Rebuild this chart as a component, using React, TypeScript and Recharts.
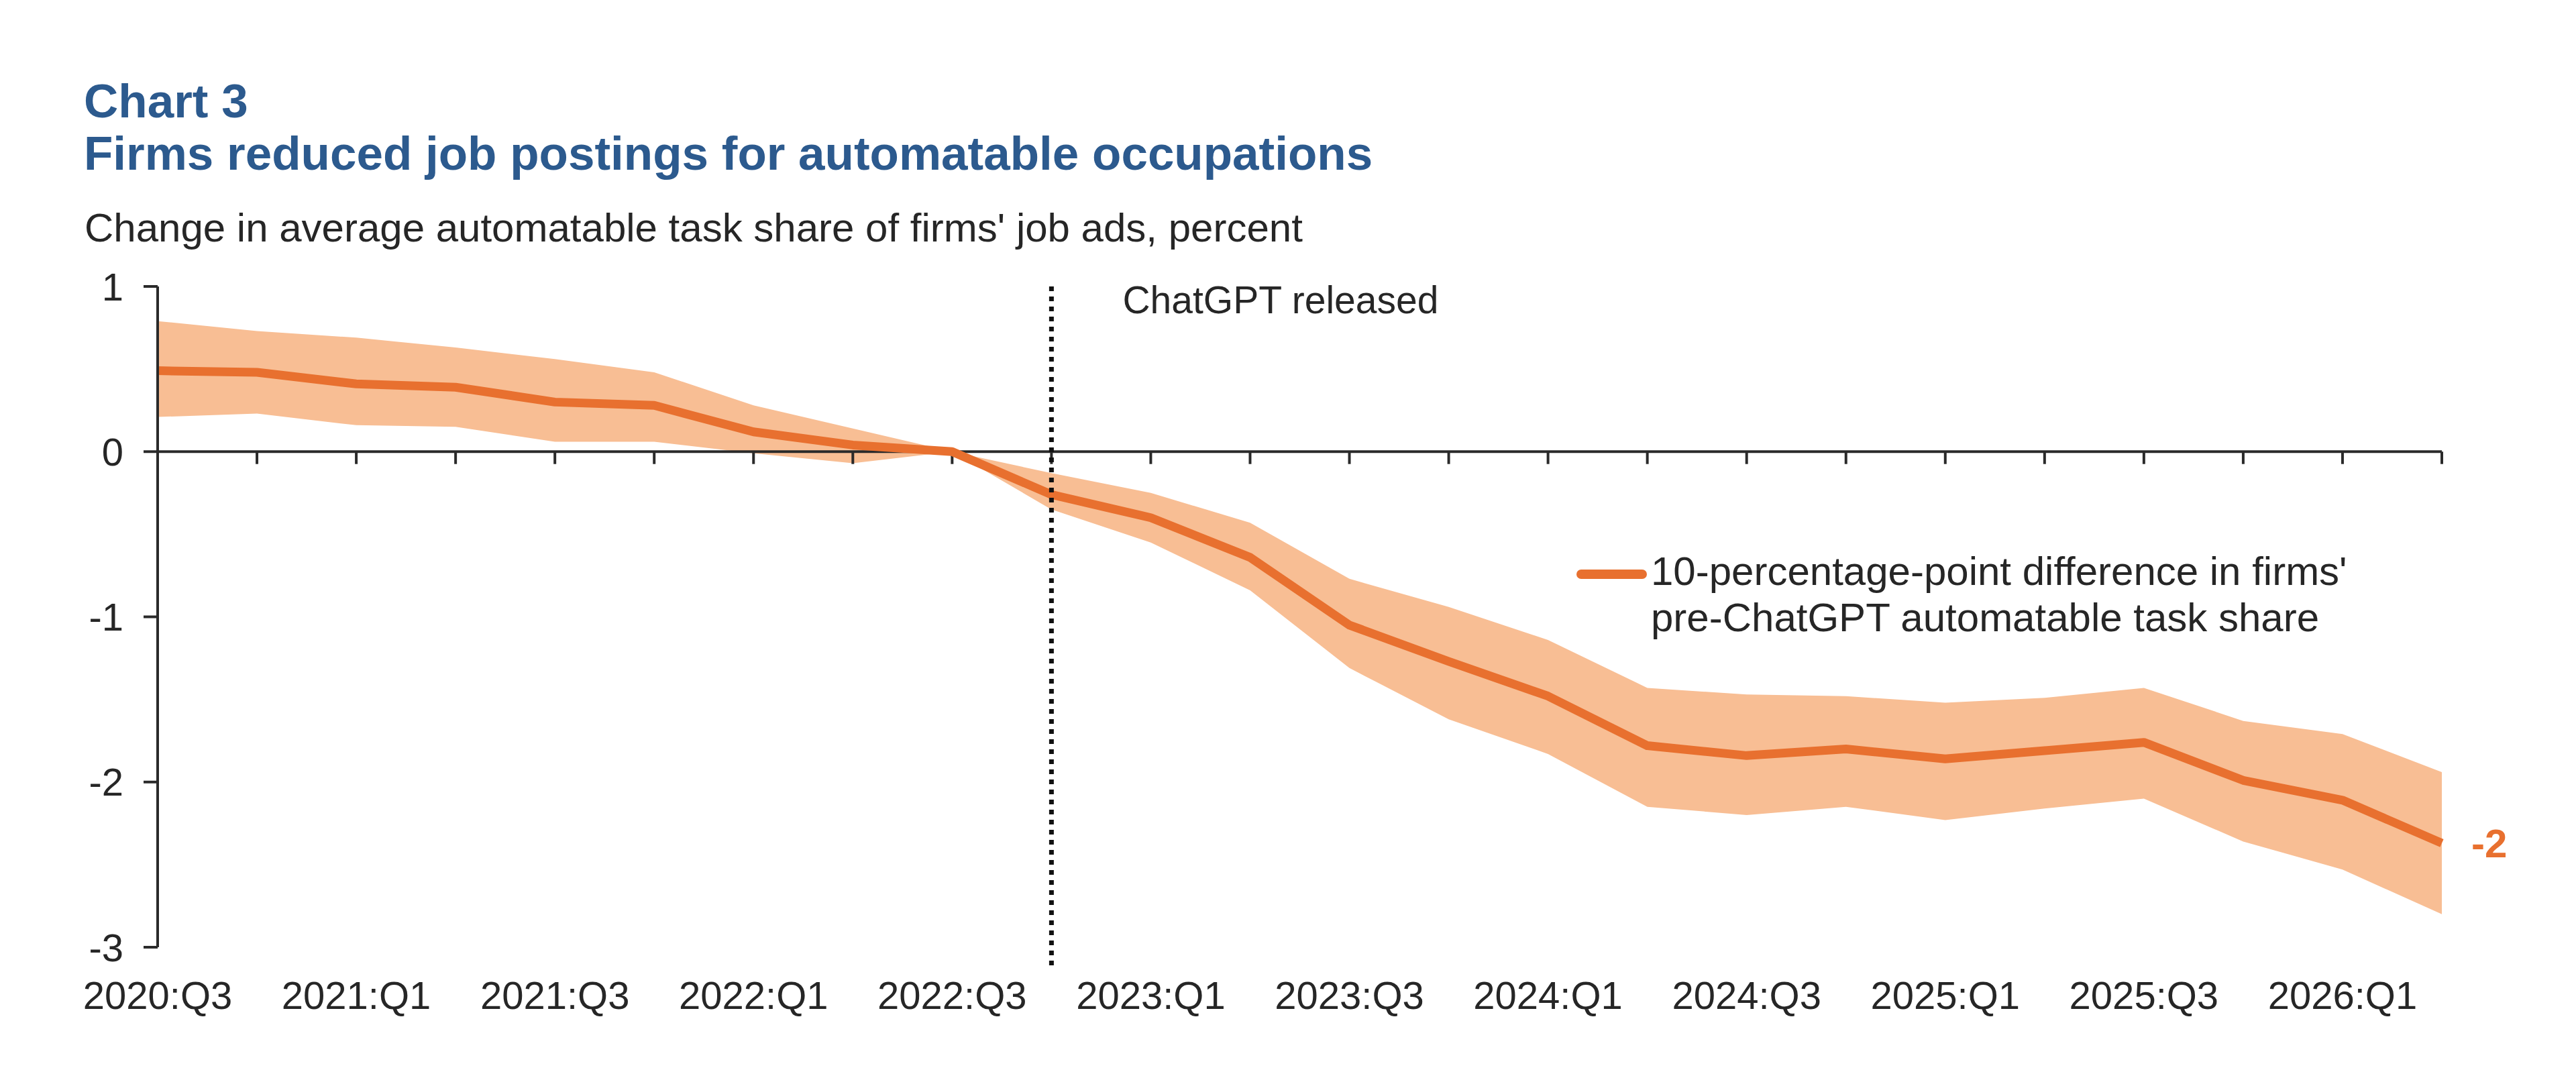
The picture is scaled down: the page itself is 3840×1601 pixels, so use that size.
import React from 'react';
import {
  ComposedChart,
  Area,
  Line,
  XAxis,
  YAxis,
  ReferenceLine,
  Legend,
  LabelList,
} from 'recharts';

const quarters = [
  '2020:Q3', '2020:Q4',
  '2021:Q1', '2021:Q2', '2021:Q3', '2021:Q4',
  '2022:Q1', '2022:Q2', '2022:Q3', '2022:Q4',
  '2023:Q1', '2023:Q2', '2023:Q3', '2023:Q4',
  '2024:Q1', '2024:Q2', '2024:Q3', '2024:Q4',
  '2025:Q1', '2025:Q2', '2025:Q3', '2025:Q4',
  '2026:Q1', '2026:Q2',
];

const estimate = [
  0.49, 0.48, 0.41, 0.39, 0.3, 0.28, 0.12, 0.04, 0.0, -0.26,
  -0.4, -0.64, -1.05, -1.27, -1.48, -1.78, -1.84, -1.8, -1.86, -1.81,
  -1.76, -1.99, -2.11, -2.37,
];

const upperBound = [
  0.79, 0.73, 0.69, 0.63, 0.56, 0.48, 0.28, 0.14, 0.0, -0.13,
  -0.25, -0.43, -0.77, -0.94, -1.14, -1.43, -1.47, -1.48, -1.52, -1.49,
  -1.43, -1.63, -1.71, -1.94,
];

const lowerBound = [
  0.21, 0.23, 0.16, 0.15, 0.06, 0.06, -0.01, -0.07, 0.0, -0.35,
  -0.55, -0.84, -1.31, -1.62, -1.83, -2.15, -2.2, -2.15, -2.23, -2.16,
  -2.1, -2.36, -2.53, -2.8,
];

const yTicks = [1, 0, -1, -2, -3];
const releaseQuarter = '2022:Q4';
const releaseLabel = 'ChatGPT released';
const seriesLines = [
  "10-percentage-point difference in firms'",
  'pre-ChatGPT automatable task share',
];
const titleLines = ['Chart 3', 'Firms reduced job postings for automatable occupations'];
const subtitle = "Change in average automatable task share of firms' job ads, percent";

const data = quarters.map((q, i) => ({
  q,
  est: estimate[i],
  band: [lowerBound[i], upperBound[i]],
}));

const FONT = '"Liberation Sans", Arial, Helvetica, sans-serif';
const ORANGE = '#E8702F';
const BAND = '#F8BE94';
const AXIS = '#2a2a2a';
const TEXT = '#262626';
const BLUE = '#2C5A8E';
const TICK_LEN = 0.075;

const XTick = (props: any) => {
  const { x, y, payload, index } = props;
  const idx = typeof index === 'number' ? index : quarters.indexOf(payload.value);
  if (idx % 2 !== 0) return <g />;
  return (
    <text x={x} y={y + 92} textAnchor="middle" fontSize={58} fill={TEXT} fontFamily={FONT}>
      {payload.value}
    </text>
  );
};

const EndLabel = (props: any) => {
  const { x, y, value, index } = props;
  if (index !== quarters.length - 1) return null;
  return (
    <text
      x={x + 44}
      y={y}
      dy="0.355em"
      fontSize={60}
      fontWeight={700}
      fill={ORANGE}
      fontFamily={FONT}
    >
      {Math.round(value)}
    </text>
  );
};

const ReleaseLabel = (props: any) => {
  const vb = props.viewBox || {};
  return (
    <text x={(vb.x || 0) + 106} y={(vb.y || 0) + 40} fontSize={57} fill={TEXT} fontFamily={FONT}>
      {releaseLabel}
    </text>
  );
};

const renderLegend = (props: any) => {
  const entry = (props.payload || []).find((p: any) => p.dataKey === 'est');
  const color = entry?.color || ORANGE;
  return (
    <div
      style={{
        display: 'flex',
        alignItems: 'flex-start',
        fontFamily: FONT,
        fontSize: 60,
        lineHeight: '69px',
        color: TEXT,
        whiteSpace: 'nowrap',
      }}
    >
      <svg width={116} height={69} style={{ display: 'block' }}>
        <line x1={12} y1={39} x2={103} y2={39} stroke={color} strokeWidth={14} strokeLinecap="round" />
      </svg>
      <div>
        {seriesLines[0]}
        <br />
        {seriesLines[1]}
      </div>
    </div>
  );
};

export default function App() {
  return (
    <div
      style={{
        position: 'absolute',
        left: 0,
        top: 0,
        width: 3840,
        height: 1601,
        background: '#ffffff',
        overflow: 'hidden',
      }}
    >
      <ComposedChart
        width={3840}
        height={1601}
        data={data}
        margin={{ top: 427, right: 200, bottom: 89, left: 115 }}
      >
        <XAxis
          dataKey="q"
          interval={0}
          axisLine={false}
          tickLine={false}
          tickSize={0}
          tickMargin={0}
          height={100}
          tick={<XTick />}
        />
        <YAxis
          type="number"
          domain={[-3, 1]}
          ticks={yTicks}
          allowDataOverflow
          width={120}
          axisLine={{ stroke: AXIS, strokeWidth: 4 }}
          tickLine={{ stroke: AXIS, strokeWidth: 4 }}
          tickSize={21}
          tickMargin={30}
          tick={{ fontSize: 58, fill: TEXT, fontFamily: FONT }}
        />
        <Area
          dataKey="band"
          type="linear"
          fill={BAND}
          fillOpacity={1}
          stroke="none"
          legendType="none"
          activeDot={false}
          isAnimationActive={false}
        />
        <ReferenceLine y={0} stroke={AXIS} strokeWidth={4} />
        {quarters.map((q) => (
          <ReferenceLine
            key={'tick-' + q}
            segment={[
              { x: q, y: 0 },
              { x: q, y: -TICK_LEN },
            ]}
            stroke={AXIS}
            strokeWidth={4}
            ifOverflow="visible"
          />
        ))}
        <Line
          dataKey="est"
          type="linear"
          stroke={ORANGE}
          strokeWidth={13}
          strokeLinejoin="round"
          dot={false}
          activeDot={false}
          isAnimationActive={false}
        >
          <LabelList dataKey="est" content={EndLabel} />
        </Line>
        <ReferenceLine
          segment={[
            { x: releaseQuarter, y: 1 },
            { x: releaseQuarter, y: -3.13 },
          ]}
          stroke="#111111"
          strokeWidth={7}
          strokeDasharray="7 8"
          ifOverflow="visible"
          label={ReleaseLabel}
        />
        <Legend
          layout="vertical"
          align="center"
          verticalAlign="middle"
          content={renderLegend}
          wrapperStyle={{ left: 2345, top: 817, width: 1400, height: 140 }}
        />
      </ComposedChart>
      <svg
        width={3840}
        height={1601}
        style={{ position: 'absolute', left: 0, top: 0, pointerEvents: 'none' }}
      >
        <text x={125} y={175} fontSize={71} fontWeight={700} fill={BLUE} fontFamily={FONT}>
          {titleLines[0]}
        </text>
        <text x={125} y={253} fontSize={71} fontWeight={700} fill={BLUE} fontFamily={FONT}>
          {titleLines[1]}
        </text>
        <text x={126} y={360} fontSize={60} fill={TEXT} fontFamily={FONT}>
          {subtitle}
        </text>
      </svg>
    </div>
  );
}
